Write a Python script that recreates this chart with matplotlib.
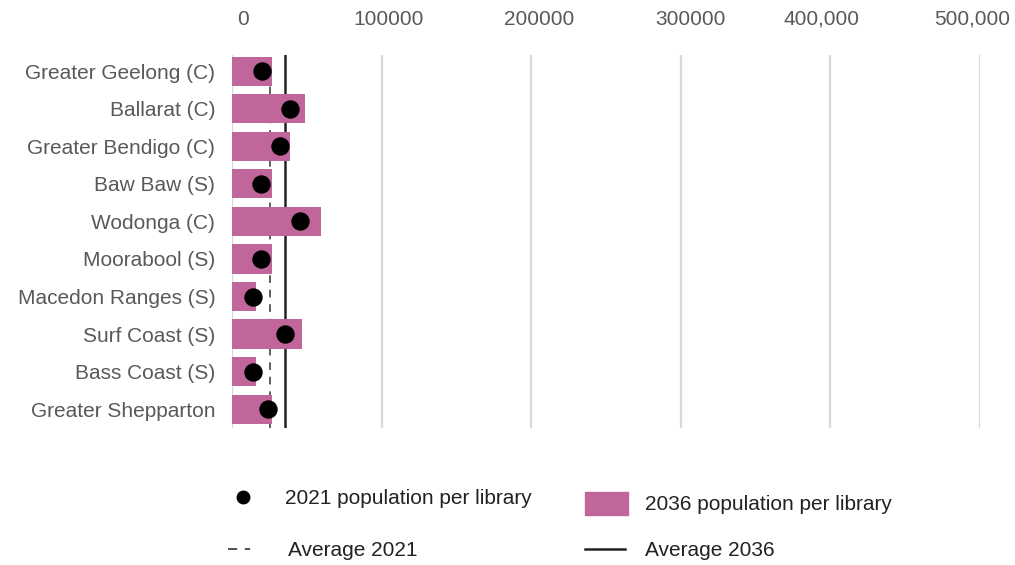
import matplotlib.pyplot as plt
from matplotlib.lines import Line2D
from matplotlib.patches import Rectangle
from matplotlib.transforms import ScaledTranslation

councils = [
    "Greater Geelong (C)",
    "Ballarat (C)",
    "Greater Bendigo (C)",
    "Baw Baw (S)",
    "Wodonga (C)",
    "Moorabool (S)",
    "Macedon Ranges (S)",
    "Surf Coast (S)",
    "Bass Coast (S)",
    "Greater Shepparton",
]

pop_2036 = [26500, 48900, 38600, 26500, 59200, 26500, 16100, 46900, 16100, 26500]
pop_2021 = [20200, 38600, 32100, 19100, 45500, 19100, 13900, 35200, 13900, 24200]

avg_2021 = 25600
avg_2036 = 35200

tick_values = [0, 100000, 200000, 300000, 400000, 500000]
tick_labels = ["0", "100000", "200000", "300000", "400,000", "500,000"]

PINK = "#c0669a"
TEXT = "#595959"
DARK = "#222222"

plt.rcParams["font.family"] = ["Liberation Sans", "DejaVu Sans"]

fig = plt.figure(figsize=(10.15, 5.65), dpi=100)
ax = fig.add_axes([232 / 1015, 1 - 428 / 565, (980 - 232) / 1015, (428 - 55) / 565])

y = list(range(len(councils)))

# average lines sit behind the bars, dots on top
ax.axvline(avg_2021, color="#333333", lw=1.1, dashes=(5, 4.5), zorder=1.5)
ax.axvline(avg_2036, color=DARK, lw=1.8, zorder=1.5)
ax.barh(y, pop_2036, height=0.78, color=PINK, edgecolor="none", zorder=2)
ax.scatter(pop_2021, y, s=150, color="black", zorder=4)

ax.set_xlim(0, 500000)
ax.set_ylim(9.5, -0.43)
ax.set_yticks(y)
ax.set_yticklabels(councils)
ax.set_xticks(tick_values)
ax.set_xticklabels(tick_labels)

ax.xaxis.tick_top()
ax.grid(axis="x", color="#d9d9d9", lw=1.6, zorder=0)
ax.set_axisbelow(True)
for side in ["top", "right", "bottom", "left"]:
    ax.spines[side].set_visible(False)

ax.tick_params(axis="x", length=0, pad=19, labelsize=15, labelcolor=TEXT)
ax.tick_params(axis="y", length=0, pad=12, labelsize=15, labelcolor=TEXT)

# nudge the top labels sideways (pixels)
nudges = [11, 7, 8, 10, -9, -8]
for lab, dx in zip(ax.get_xticklabels(), nudges):
    lab.set_transform(lab.get_transform() + ScaledTranslation(dx / 100, 0, fig.dpi_scale_trans))

# legend drawn by hand in pixel coordinates
def px(x, y_px):
    return x / 1015, 1 - y_px / 565

fs = 15
fig.add_artist(Line2D(*zip(px(243, 497)), marker="o", markersize=9,
                      color="black", linestyle="none"))
fig.text(*px(285, 499), "2021 population per library", fontsize=fs,
         color=DARK, va="center")

fig.add_artist(Rectangle(px(585, 515), 43 / 1015, 23 / 565, color=PINK))
fig.text(*px(645, 504), "2036 population per library", fontsize=fs,
         color=DARK, va="center")

fig.add_artist(Line2D([px(228, 0)[0], px(250, 0)[0]], [px(0, 549)[1]] * 2,
                      color=DARK, lw=1.1, dashes=(6, 5)))
fig.text(*px(288, 551), "Average 2021", fontsize=fs, color=DARK,
         va="center")

fig.add_artist(Line2D([px(585, 0)[0], px(625, 0)[0]], [px(0, 549)[1]] * 2,
                      color=DARK, lw=1.8))
fig.text(*px(645, 551), "Average 2036", fontsize=fs, color=DARK,
         va="center")

fig.savefig("out.png", dpi=100)
